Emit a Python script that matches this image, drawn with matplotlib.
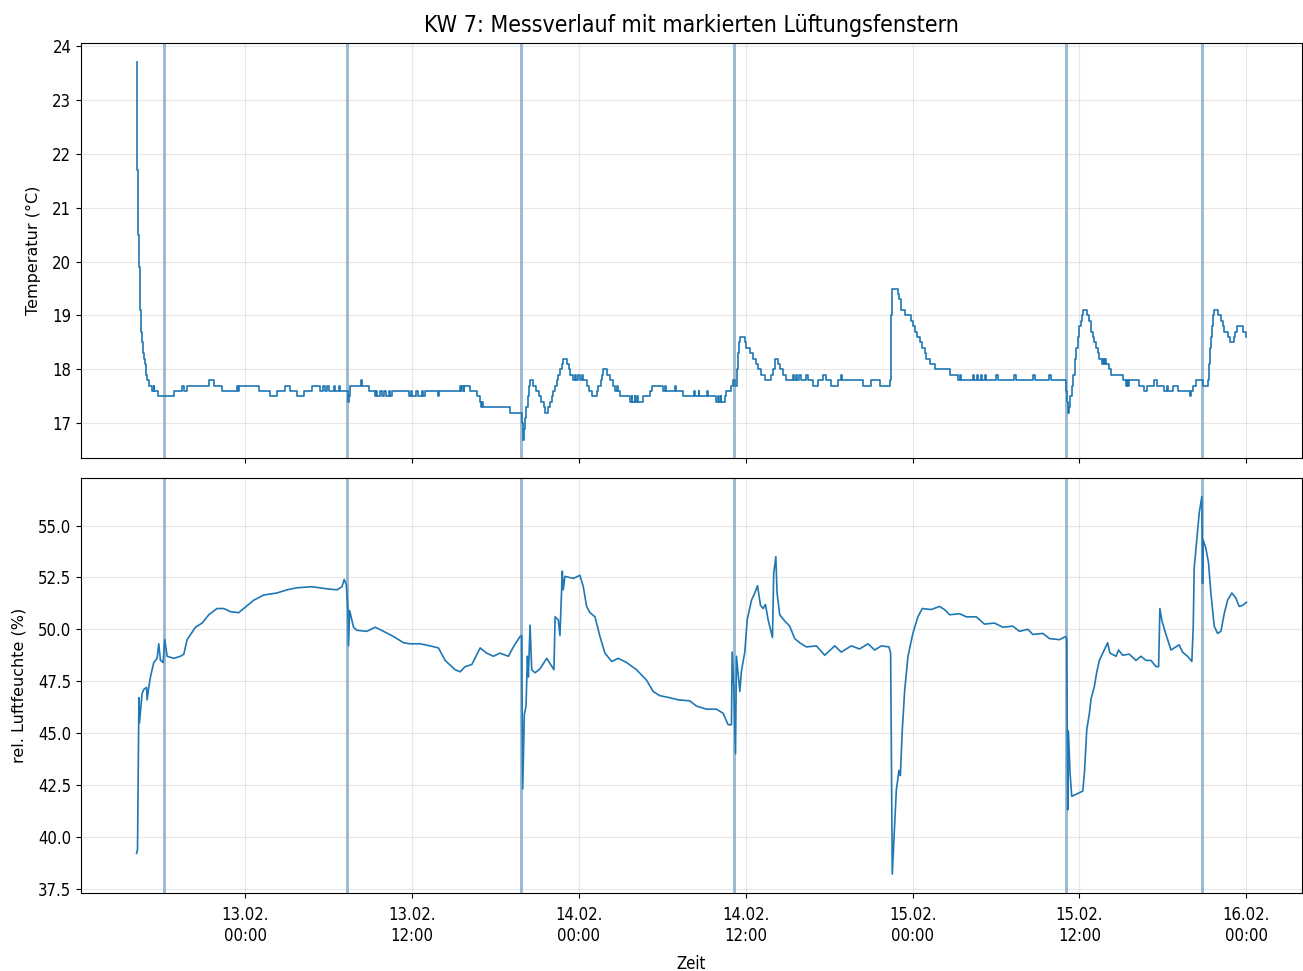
import matplotlib
matplotlib.use('Agg')
import matplotlib.pyplot as plt
import matplotlib.dates as mdates
import pandas as pd

# start of day 13.02. as reference, all times in hours relative to it
t0 = pd.Timestamp('2024-02-13 00:00')

# temperature (°C), value holds from the given hour on
temp_h = [-7.83, -7.82, -7.81, -7.80, -7.79, -7.78, -7.76, -7.74, -7.72, -7.70,
          -7.67, -7.64, -7.61, -7.58, -7.55, -7.52, -7.49, -7.45, -7.42, -7.38,
          -7.35, -7.30, -7.25, -7.18, -7.12, -7.07, -6.90, -6.71, -6.60, -6.55,
          -6.29, -5.15, -4.55,
          -4.45, -4.19, -2.63, -2.28, -1.68, -0.60, -0.55, -0.48, 0.96, 1.80,
          2.29, 2.87, 3.23, 3.71, 4.19, 4.79, 5.39, 5.55, 5.70, 5.85,
          6.00, 6.40, 6.45, 6.75, 6.80, 7.37, 7.45, 7.55, 8.31, 8.40,
          8.86, 9.34, 9.40, 9.50, 9.70, 9.80, 10.00, 10.10, 10.30, 10.40,
          10.54, 11.74, 11.90, 12.00, 12.30, 12.40, 12.70, 12.80, 12.94, 13.89,
          13.95, 15.45, 15.50, 15.55, 15.70, 15.75, 16.17, 16.65, 16.89, 16.95,
          17.00, 17.12, 19.04, 19.88, 19.95, 20.02, 20.10, 20.20, 20.30, 20.38,
          20.45, 20.72, 20.90, 21.10, 21.30, 21.45, 21.56, 21.75, 21.90, 22.05,
          22.16, 22.30, 22.40, 22.52, 22.65, 22.75, 22.87, 23.11, 23.25, 23.35,
          23.59, 23.70, 23.80, 23.95, 24.05, 24.20, 24.31, 24.55, 24.70, 24.91,
          25.27, 25.40, 25.55, 25.65, 25.75, 25.98, 26.20, 26.45, 26.60, 26.70,
          26.80, 26.95, 27.66, 27.80, 27.85, 28.00, 28.05, 28.20, 28.25, 28.62,
          29.10, 29.22, 30.06, 30.20, 30.25, 30.90, 31.00, 31.50, 32.30, 32.35,
          32.60, 32.65, 33.20, 33.25, 33.89, 34.00, 34.05, 34.20, 34.25, 34.49,
          34.61, 34.97, 35.10, 35.25, 35.35, 35.45, 35.52, 35.57, 35.95, 36.05,
          36.29, 36.53, 36.70, 36.89, 37.13, 37.37, 37.85, 37.97, 38.08, 38.32,
          38.44, 38.68, 38.92, 39.40, 39.50, 39.60, 39.70, 39.80, 40.00, 40.36,
          40.45, 40.84, 41.20, 41.56, 41.75, 42.16, 42.63, 42.87, 42.95, 44.43,
          45.03, 45.63, 46.35, 46.48, 46.54, 46.95, 47.05, 47.15, 47.19, 47.43,
          47.90, 48.00, 48.14, 48.30, 48.50, 48.65, 48.86, 49.00, 49.22, 49.58,
          50.66, 51.26, 51.40, 51.45, 52.33, 52.40, 52.60, 52.70, 52.90, 53.00,
          53.20, 53.29, 54.01, 54.15, 55.33, 55.45, 56.65, 56.80, 57.85, 57.97,
          59.04, 59.10, 59.16, 59.25, 59.35, 59.45, 59.55, 59.65, 59.76, 59.88,
          60.00, 60.12, 60.18, 60.24, 60.55, 60.72, 60.85, 60.96, 61.08, 61.20,
          61.32, 61.44, 61.60, 61.68, 61.75, 61.85, 61.92, 62.16, 62.28, 63.11,
          63.35, 63.45, 63.50, 63.59, 64.31, 64.67, 64.79, 64.90, 65.39, 65.60,
          66.11, 66.30, 66.35, 66.71, 67.07, 67.95, 68.02, 68.20, 68.38, 68.90,
          69.22, 69.30, 69.38, 69.46, 69.55, 69.62, 69.70, 70.00, 70.18, 70.30,
          70.42, 70.66, 70.85, 71.10, 71.20, 71.37, 71.80, 71.97, 72.00]
temp_v = [23.7, 23.2, 22.8, 22.4, 22.0, 21.7, 21.4, 21.1, 20.8, 20.5,
          20.2, 19.9, 19.6, 19.4, 19.1, 18.9, 18.7, 18.6, 18.5, 18.4,
          18.3, 18.2, 18.1, 18.0, 17.9, 17.8, 17.7, 17.6, 17.7, 17.6,
          17.5, 17.6, 17.7,
          17.6, 17.7, 17.8, 17.7, 17.6, 17.7, 17.6, 17.7, 17.6, 17.5,
          17.6, 17.7, 17.6, 17.5, 17.6, 17.7, 17.6, 17.7, 17.6, 17.7,
          17.6, 17.7, 17.6, 17.7, 17.6, 17.4, 17.5, 17.7, 17.8, 17.7,
          17.6, 17.5, 17.6, 17.5, 17.6, 17.5, 17.6, 17.5, 17.6, 17.5,
          17.6, 17.5, 17.6, 17.5, 17.6, 17.5, 17.6, 17.5, 17.6, 17.5,
          17.6, 17.7, 17.6, 17.7, 17.6, 17.7, 17.6, 17.5, 17.4, 17.3,
          17.4, 17.3, 17.2, 17.0, 16.7, 16.9, 17.1, 17.3, 17.5, 17.7,
          17.8, 17.7, 17.6, 17.5, 17.4, 17.3, 17.2, 17.3, 17.4, 17.5,
          17.6, 17.7, 17.8, 17.9, 18.0, 18.1, 18.2, 18.1, 18.0, 17.9,
          17.8, 17.9, 17.8, 17.9, 17.8, 17.9, 17.8, 17.7, 17.6, 17.5,
          17.6, 17.7, 17.8, 17.9, 18.0, 17.9, 17.8, 17.7, 17.6, 17.7,
          17.6, 17.5, 17.4, 17.5, 17.4, 17.5, 17.4, 17.5, 17.4, 17.5,
          17.6, 17.7, 17.6, 17.7, 17.6, 17.7, 17.6, 17.5, 17.6, 17.5,
          17.6, 17.5, 17.6, 17.5, 17.4, 17.5, 17.4, 17.5, 17.4, 17.5,
          17.6, 17.7, 17.8, 17.7, 18.0, 18.3, 18.5, 18.6, 18.5, 18.4,
          18.3, 18.2, 18.1, 18.0, 17.9, 17.8, 17.9, 18.0, 18.2, 18.1,
          18.0, 17.9, 17.8, 17.9, 17.8, 17.9, 17.8, 17.9, 17.8, 17.9,
          17.8, 17.7, 17.8, 17.9, 17.8, 17.7, 17.8, 17.9, 17.8, 17.7,
          17.8, 17.7, 17.8, 19.0, 19.5, 19.4, 19.3, 19.2, 19.1, 19.0,
          18.9, 18.8, 18.7, 18.6, 18.5, 18.4, 18.3, 18.2, 18.1, 18.0,
          17.9, 17.8, 17.9, 17.8, 17.9, 17.8, 17.9, 17.8, 17.9, 17.8,
          17.9, 17.8, 17.9, 17.8, 17.9, 17.8, 17.9, 17.8, 17.9, 17.8,
          17.6, 17.4, 17.2, 17.3, 17.5, 17.7, 17.9, 18.2, 18.4, 18.6,
          18.8, 18.9, 19.0, 19.1, 19.0, 18.9, 18.7, 18.6, 18.5, 18.4,
          18.3, 18.2, 18.1, 18.2, 18.1, 18.2, 18.1, 18.0, 17.9, 17.8,
          17.7, 17.8, 17.7, 17.8, 17.7, 17.6, 17.6, 17.7, 17.8, 17.7,
          17.6, 17.7, 17.6, 17.7, 17.6, 17.5, 17.6, 17.7, 17.8, 17.7,
          17.8, 18.1, 18.4, 18.6, 18.8, 19.0, 19.1, 19.0, 18.9, 18.8,
          18.7, 18.6, 18.5, 18.6, 18.7, 18.8, 18.7, 18.6, 18.6]

# relative humidity (%)
hum_h = [-7.83, -7.76, -7.66, -7.62, -7.43, -7.31, -7.11, -7.07, -6.95, -6.83,
         -6.59, -6.35, -6.23, -6.11, -5.92, -5.80, -5.63, -5.15, -4.67, -4.43,
         -4.19, -3.59, -3.11, -2.63, -2.04, -1.56, -1.08, -0.48, -0.12, 0.60,
         1.32, 2.28, 2.99, 3.71, 4.79, 5.87, 6.59, 6.95, 7.11, 7.26,
         7.38, 7.42, 7.50, 7.78, 8.02, 8.74, 9.34, 9.94, 10.66, 11.38,
         11.86, 12.58, 13.29, 13.89, 14.37, 15.09, 15.45, 15.81, 16.29, 16.89,
         17.36, 17.84, 18.32, 18.92, 19.28, 19.76, 19.88, 19.95, 20.07, 20.19,
         20.29, 20.36, 20.48, 20.60, 20.84, 21.20, 21.68, 21.92, 22.20, 22.28,
         22.51, 22.63, 22.80, 22.87, 22.99, 23.59, 24.07, 24.31, 24.55, 24.79,
         25.15, 25.51, 25.87, 26.35, 26.82, 27.42, 28.14, 28.86, 29.34, 29.82,
         30.54, 31.14, 31.97, 32.45, 33.17, 33.89, 34.37, 34.73, 34.97, 35.02,
         35.14, 35.26, 35.33, 35.57, 35.69, 35.93, 36.10, 36.41, 36.65, 36.84,
         37.06, 37.25, 37.41, 37.61, 37.92, 38.01, 38.16, 38.25, 38.44, 38.80,
         39.16, 39.52, 39.88, 40.36, 41.08, 41.68, 42.40, 42.87, 43.59, 44.19,
         44.79, 45.27, 45.75, 46.30, 46.42, 46.54, 46.66, 46.83, 47.02, 47.12,
         47.26, 47.43, 47.67, 48.02, 48.38, 48.70, 49.34, 49.94, 50.30, 50.66,
         51.38, 51.86, 52.58, 53.17, 53.89, 54.49, 55.21, 55.69, 56.29, 56.65,
         57.37, 57.85, 58.57, 59.00, 59.09, 59.16, 59.21, 59.33, 59.45, 59.76,
         60.24, 60.36, 60.53, 60.72, 60.84, 61.08, 61.24, 61.44, 61.79, 62.03,
         62.20, 62.64, 62.82, 63.11, 63.59, 64.07, 64.43, 64.79, 65.15, 65.51,
         65.70, 65.79, 65.94, 66.23, 66.59, 66.95, 67.18, 67.42, 67.78, 68.09,
         68.19, 68.26, 68.38, 68.52, 68.62, 68.74, 68.81, 68.86, 68.91, 69.10,
         69.29, 69.46, 69.70, 69.94, 70.18, 70.42, 70.66, 70.97, 71.26, 71.49,
         71.73, 72.02]
hum_v = [39.2, 39.4, 46.7, 45.5, 46.9, 47.1, 47.2, 46.6, 47.2, 47.7,
         48.4, 48.6, 49.3, 48.5, 48.4, 49.5, 48.7, 48.6, 48.7, 48.8,
         49.5, 50.1, 50.3, 50.7, 51.0, 51.0, 50.85, 50.8, 51.0, 51.4,
         51.65, 51.75, 51.9, 52.0, 52.05, 51.95, 51.9, 52.05, 52.4, 52.15,
         50.9, 49.2, 50.9, 50.1, 49.95, 49.9, 50.1, 49.9, 49.65, 49.35,
         49.3, 49.3, 49.2, 49.1, 48.5, 48.05, 47.95, 48.2, 48.3, 49.1,
         48.85, 48.7, 48.85, 48.7, 49.15, 49.65, 49.7, 42.3, 45.9, 46.3,
         48.7, 47.7, 50.2, 48.05, 47.9, 48.1, 48.6, 48.35, 48.05, 50.6,
         50.45, 49.7, 52.8, 51.9, 52.55, 52.45, 52.6, 52.05, 51.1, 50.8,
         50.6, 49.65, 48.85, 48.45, 48.6, 48.4, 48.05, 47.55, 47.0, 46.8,
         46.7, 46.6, 46.55, 46.3, 46.15, 46.15, 45.95, 45.4, 45.4, 48.9,
         47.2, 44.0, 48.7, 47.0, 48.0, 48.9, 50.45, 51.4, 51.75, 52.1,
         51.15, 51.0, 51.2, 50.45, 49.6, 52.7, 53.5, 51.75, 50.7, 50.4,
         50.15, 49.55, 49.35, 49.15, 49.2, 48.75, 49.2, 48.9, 49.2, 49.05,
         49.3, 49.0, 49.2, 49.15, 48.85, 38.2, 39.85, 42.25, 43.2, 42.95,
         45.15, 47.05, 48.7, 49.8, 50.6, 51.0, 50.95, 51.1, 50.95, 50.7,
         50.75, 50.6, 50.6, 50.25, 50.3, 50.1, 50.15, 49.9, 50.0, 49.75,
         49.8, 49.55, 49.5, 49.65, 49.55, 41.3, 45.1, 43.05, 41.95, 42.05,
         42.2, 43.05, 45.15, 45.95, 46.65, 47.25, 47.9, 48.5, 49.0, 49.35,
         48.85, 48.7, 49.0, 48.75, 48.8, 48.5, 48.7, 48.5, 48.5, 48.2,
         48.2, 51.0, 50.4, 49.75, 49.0, 49.15, 49.25, 48.9, 48.7, 48.45,
         50.1, 52.95, 53.85, 54.95, 55.6, 56.1, 56.4, 52.2, 54.3, 53.9,
         53.2, 51.75, 50.15, 49.8, 49.9, 50.75, 51.4, 51.75, 51.5, 51.1,
         51.15, 51.3]

# ventilation windows (hours)
vent_start = [-5.91, 7.27, 19.77, 35.08, 59.00, 68.78]
vent_end = [-5.69, 7.49, 19.99, 35.28, 59.21, 68.96]

temp_t = t0 + pd.to_timedelta(temp_h, unit='h')
hum_t = t0 + pd.to_timedelta(hum_h, unit='h')

plt.rcParams['font.family'] = 'DejaVu Sans'

fig, (ax1, ax2) = plt.subplots(2, 1, sharex=True, figsize=(13.03, 9.71), dpi=100)
fig.subplots_adjust(left=0.0622, right=0.9992, top=0.9557, bottom=0.0803, hspace=0.046)

ax1.plot(temp_t, temp_v, color='C0', lw=1.2, drawstyle='steps-post')
ax2.plot(hum_t, hum_v, color='C0', lw=1.2)

for ax in (ax1, ax2):
    for s, e in zip(vent_start, vent_end):
        ax.axvspan(t0 + pd.Timedelta(hours=s), t0 + pd.Timedelta(hours=e),
                   color='#3f78ab', alpha=0.5, lw=0)
    ax.grid(True, alpha=0.3)
    ax.tick_params(labelsize=12)
    for lab in ax.get_xticklabels() + ax.get_yticklabels():
        lab.set_fontstretch('condensed')

ax1.set_ylabel('Temperatur (°C)', fontsize=11.5, labelpad=8)
ax2.set_ylabel('rel. Luftfeuchte (%)', fontsize=11.5, labelpad=8)
ax2.set_xlabel('Zeit', fontsize=12, fontstretch='condensed', labelpad=7)
ax1.set_title('KW 7: Messverlauf mit markierten Lüftungsfenstern', fontsize=16.6,
              fontstretch='condensed', pad=8)

ax2.xaxis.set_major_locator(mdates.HourLocator(byhour=[0, 12]))
ax2.xaxis.set_major_formatter(mdates.DateFormatter('%d.%m.\n%H:%M'))
ax2.tick_params(axis='x', pad=6)
for lab in ax2.get_xticklabels():
    lab.set_fontstretch('condensed')
    lab.set_fontsize(12)

plt.savefig('out.png')
